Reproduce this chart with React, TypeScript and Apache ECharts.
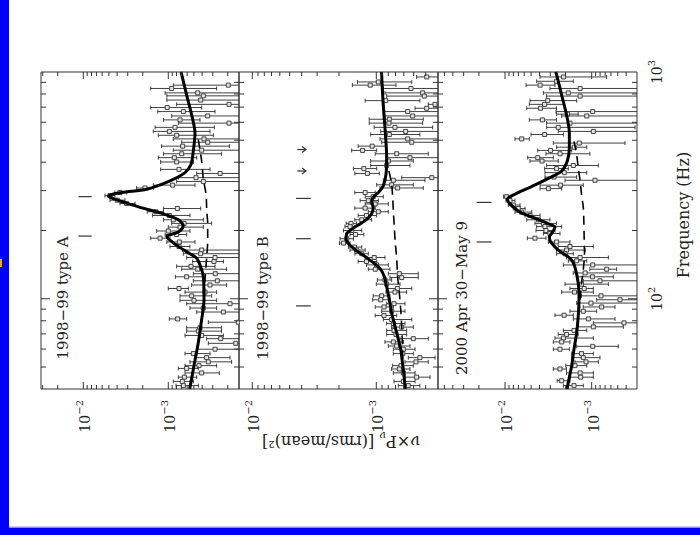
import React, { useEffect, useRef } from "react";
import * as echarts from "echarts";

const FONT = "'DejaVu Serif', 'Liberation Serif', serif";

// ---------- axes ----------
const freqRange = [40, 1000];
const powerRanges = [
  [1.473e-4, 3.144e-2],
  [3.18e-4, 1.28e-2],
  [3.0e-4, 5.93e-2],
];
const panelNames = ["1998−99 type A", "1998−99 type B", "2000 Apr 30−May 9"];
const powerTickValues = [1e-2, 1e-3];
const powerTickLabels = ["{b|10}{s|−2}", "{b|10}{s|−3}"];
const freqTickValues = [100, 1000];
const freqTickLabels = ["{b|10}{s|2}", "{b|10}{s|3}"];
const freqTitle = "Frequency (Hz)";
const BELOW = 1e-5; // error bar runs off the plotted range

// ---------- panel A : [freq, power, lower, upper] ----------
const pointsA = [
  [875, 1.97e-4, BELOW, 8.73e-4], [846, 9.12e-4, 2.7e-4, 1.61e-3], [809, 4.51e-4, BELOW, 1.09e-3],
  [785, 3.87e-4, BELOW, 1.04e-3], [752, 4.16e-4, BELOW, 1.04e-3], [720, 1.93e-4, BELOW, 7.97e-4],
  [697, 1.03e-3, 4.05e-4, 1.61e-3], [669, 6.65e-4, 2.82e-4, 1.33e-3], [640, 3.44e-4, BELOW, 9.12e-4],
  [615, 7.28e-4, 4.24e-4, 1.14e-3], [595, 1.93e-4, BELOW, 7.62e-4], [570, 8.34e-4, 2.87e-4, 1.43e-3],
  [547, 9.73e-4, 3.23e-4, 1.5e-3], [526, 7.97e-4, 2.95e-4, 1.31e-3], [507, 3.8e-4, BELOW, 8.73e-4],
  [490, 3.44e-4, BELOW, 6.96e-4], [471, 6.78e-4, 1.91e-4, 1.2e-3], [452, 4.05e-4, BELOW, 8.73e-4],
  [436, 6.96e-4, 2.36e-4, 1.14e-3], [419, 8.49e-4, 4.63e-4, 1.31e-3], [401, 7.97e-4, 5.07e-4, 1.23e-3],
  [372, 7.48e-4, 3.23e-4, 1.23e-3], [357, 2.46e-4, BELOW, 4.63e-4], [342, 4.72e-4, BELOW, 7.62e-4],
  [329, 3.87e-4, BELOW, 7.97e-4], [317, 8.89e-4, 4.85e-4, 1.5e-3], [308, 1.88e-3, 1.5e-3, 2.36e-3],
  [294, 3.7e-3, 3.09e-3, 4.24e-3], [285, 4.85e-3, 4.24e-3, 5.56e-3], [272, 3.98e-3, 3.23e-3, 4.85e-3],
  [263, 3.09e-3, 2.46e-3, 3.7e-3], [250, 7.83e-4, 4.16e-4, 1.14e-3], [242, 1.4e-3, 1.14e-3, 1.77e-3],
  [233, 9.73e-4, 5.56e-4, 1.53e-3], [223, 8.73e-4, 3.87e-4, 1.14e-3], [215, 6.53e-4, 3.09e-4, 9.12e-4],
  [207, 7.28e-4, 3.87e-4, 1.0e-3], [199, 1.0e-3, 5.56e-4, 1.37e-3], [192, 7.97e-4, 6.08e-4, 1.09e-3],
  [185, 1.25e-3, 9.55e-4, 1.61e-3], [178, 7.41e-4, 4.85e-4, 1.04e-3], [170, 7.48e-4, 5.56e-4, 9.55e-4],
  [164, 4.05e-4, BELOW, 6.84e-4], [158, 4.16e-4, BELOW, 6.65e-4], [152, 2.82e-4, BELOW, 6.08e-4],
  [146, 2.9e-4, 2.25e-4, 5.17e-4], [139, 5.41e-4, 2.82e-4, 7.97e-4], [135, 4.51e-4, 2.06e-4, 6.96e-4],
  [129, 2.8e-4, BELOW, 5.07e-4], [125, 6.08e-4, 3.87e-4, 8.26e-4], [120, 2.65e-4, BELOW, 5.07e-4],
  [115, 3.23e-4, 2.06e-4, 5.31e-4], [111, 7.48e-4, 5.81e-4, 1.0e-3], [107, 3.7e-4, 2.7e-4, 6.36e-4],
  [103, 5.31e-4, 3.09e-4, 7.28e-4], [98.4, 4.99e-4, 2.7e-4, 7.28e-4], [95.1, 1.88e-4, BELOW, 6.08e-4],
  [91.0, 3.87e-4, 2.7e-4, 5.56e-4], [87.4, 2.25e-4, BELOW, 4.63e-4], [81.5, 7.76e-4, 6.08e-4, 9.73e-4],
  [78.8, 1.5e-4, BELOW, 3.38e-4], [74.5, 4.24e-4, 2.36e-4, 6.08e-4], [72.0, 4.43e-4, 2.36e-4, 6.08e-4],
  [68.9, 4.05e-4, 2.25e-4, 6.36e-4], [66.7, 2.42e-4, BELOW, 3.54e-4], [63.6, 1.61e-4, BELOW, 3.38e-4],
  [59.9, 2.82e-4, BELOW, 4.63e-4], [57.3, 5.07e-4, 3.23e-4, 6.36e-4], [55.0, 3.54e-4, 1.88e-4, 4.85e-4],
  [52.7, 3.38e-4, 1.8e-4, 5.56e-4], [50.7, 4.35e-4, 2.7e-4, 6.36e-4], [49.3, 6.08e-4, 4.43e-4, 7.62e-4],
  [47.1, 4.05e-4, 2.51e-4, 6.36e-4], [45.1, 6.47e-4, 4.63e-4, 7.62e-4], [43.2, 6.84e-4, 5.07e-4, 8.73e-4],
  [41.4, 6.65e-4, 4.43e-4, 8.11e-4],
];
const modelA = [
  [1000, 7.1e-4], [973, 6.95e-4], [791, 6.08e-4], [647, 5.31e-4], [537, 4.85e-4], [448, 5.08e-4],
  [391, 5.41e-4], [360, 6.37e-4], [331, 9.55e-4], [304, 1.79e-3], [294, 3.53e-3], [284, 5.08e-3],
  [270, 3.7e-3], [253, 2.15e-3], [237, 1.15e-3], [223, 7.62e-4], [210, 6.67e-4], [197, 7.62e-4],
  [188, 1.04e-3], [172, 7.96e-4], [158, 5.56e-4], [151, 4.63e-4], [141, 4.24e-4], [125, 3.87e-4],
  [99, 3.8e-4], [81, 4.05e-4], [64, 4.44e-4], [50.6, 4.99e-4], [40, 5.6e-4],
];
const contA = [
  [504, 4.44e-4], [405, 4.05e-4], [337, 3.87e-4], [290, 3.6e-4], [245, 3.53e-4], [214, 3.44e-4],
  [181, 3.44e-4], [153, 3.53e-4], [121, 3.7e-4], [99, 3.8e-4], [81, 4.05e-4], [64, 4.44e-4],
  [50.6, 4.99e-4], [40, 5.6e-4],
];
// [freq, power start, power end, arrow]
const marksA = [[282, 1.14e-2, 7.97e-3, 0], [189, 1.14e-2, 7.97e-3, 0]];

// ---------- panel B ----------
const pointsB = [
  [951, 3.92e-4, BELOW, 4.73e-4], [904, 9.63e-4, 5.18e-4, 1.42e-3], [875, 1.12e-3, 6.94e-4, 1.56e-3],
  [846, 5.25e-4, BELOW, 8.78e-4], [809, 4.23e-4, BELOW, 8.51e-4], [783, 4.1e-4, BELOW, 8.25e-4],
  [748, 8.4e-4, 4.45e-4, 1.23e-3], [720, 3.36e-4, BELOW, 3.81e-4], [692, 3.92e-4, BELOW, 4.87e-4],
  [669, 5.58e-4, BELOW, 8.78e-4], [640, 5.09e-4, BELOW, 8.51e-4], [619, 7.85e-4, 4.18e-4, 1.14e-3],
  [595, 7.91e-4, 4.23e-4, 1.14e-3], [570, 7.07e-4, 3.51e-4, 1.04e-3], [547, 5.8e-4, BELOW, 9.22e-4],
  [530, 7.85e-4, 4.45e-4, 1.11e-3], [507, 5.58e-4, BELOW, 9.34e-4], [490, 5.18e-4, BELOW, 9.05e-4],
  [471, 1.08e-3, 8.25e-4, 1.4e-3], [451, 1.29e-3, 9.93e-4, 1.58e-3], [436, 6.85e-4, 3.81e-4, 1.02e-3],
  [419, 5.35e-4, BELOW, 8.25e-4], [405, 8.0e-4, 5.03e-4, 1.11e-3], [387, 8.25e-4, 5.35e-4, 1.11e-3],
  [375, 1.26e-3, 9.93e-4, 1.53e-3], [357, 1.18e-3, 9.46e-4, 1.49e-3], [342, 3.57e-4, BELOW, 6.24e-4],
  [333, 7.29e-4, 4.05e-4, 8.78e-4], [318, 7.52e-4, 5.03e-4, 9.93e-4], [308, 6.73e-4, 4.18e-4, 9.34e-4],
  [294, 1.23e-3, 1.02e-3, 1.49e-3], [282, 1.06e-3, 8.78e-4, 1.23e-3], [271, 1.16e-3, 9.63e-4, 1.35e-3],
  [262, 1.02e-3, 8.0e-4, 1.23e-3], [251, 1.23e-3, 1.02e-3, 1.49e-3], [242, 9.63e-4, 8.0e-4, 1.16e-3],
  [233, 1.2e-3, 9.93e-4, 1.4e-3], [223, 1.31e-3, 1.09e-3, 1.49e-3], [215, 1.6e-3, 1.44e-3, 1.75e-3],
  [208, 1.63e-3, 1.49e-3, 1.79e-3], [200, 1.58e-3, 1.31e-3, 1.84e-3], [192, 1.47e-3, 1.26e-3, 1.63e-3],
  [184, 1.73e-3, 1.53e-3, 1.96e-3], [176, 1.84e-3, 1.63e-3, 1.98e-3], [169, 1.5e-3, 1.31e-3, 1.68e-3],
  [164, 1.44e-3, 1.23e-3, 1.63e-3], [158, 1.31e-3, 1.16e-3, 1.49e-3], [152, 1.04e-3, 8.51e-4, 1.23e-3],
  [146, 1.2e-3, 9.93e-4, 1.4e-3], [141, 9.93e-4, 8.0e-4, 1.2e-3], [135, 1.02e-3, 7.76e-4, 1.16e-3],
  [129, 6.52e-4, 4.59e-4, 8.0e-4], [124, 6.24e-4, 4.59e-4, 7.76e-4], [121, 8.51e-4, 7.52e-4, 9.81e-4],
  [116, 8.25e-4, 6.44e-4, 1.0e-3], [111, 6.76e-4, 5.18e-4, 8.25e-4], [107, 7.07e-4, 5.69e-4, 8.35e-4],
  [103, 9.05e-4, 7.76e-4, 1.06e-3], [99.0, 9.22e-4, 7.76e-4, 1.07e-3], [95.1, 7.2e-4, 5.87e-4, 8.25e-4],
  [92.0, 8.67e-4, 7.29e-4, 1.02e-3], [88.1, 7.52e-4, 5.87e-4, 9.05e-4], [84.4, 8.67e-4, 6.85e-4, 1.02e-3],
  [81.0, 7.52e-4, 5.18e-4, 8.78e-4], [77.8, 7.29e-4, 5.87e-4, 8.25e-4], [75.0, 6.24e-4, 5.03e-4, 7.52e-4],
  [72.5, 7.2e-4, 5.69e-4, 8.25e-4], [69.6, 6.94e-4, 5.69e-4, 8.25e-4], [66.7, 5.03e-4, 3.81e-4, 6.44e-4],
  [64.5, 7.29e-4, 6.05e-4, 8.51e-4], [61.9, 6.85e-4, 5.35e-4, 8.0e-4], [59.9, 6.05e-4, 4.87e-4, 7.29e-4],
  [57.3, 6.12e-4, 5.03e-4, 7.29e-4], [55.0, 4.45e-4, 3.36e-4, 5.52e-4], [52.7, 4.79e-4, 3.81e-4, 5.87e-4],
  [50.7, 6.32e-4, 5.03e-4, 7.38e-4], [49.0, 6.52e-4, 5.35e-4, 7.52e-4], [47.1, 6.05e-4, 4.87e-4, 7.29e-4],
  [45.1, 4.73e-4, 3.69e-4, 5.87e-4], [43.2, 6.05e-4, 4.87e-4, 7.2e-4], [41.4, 5.52e-4, 4.45e-4, 6.64e-4],
];
const modelB = [
  [1000, 9.1e-4], [973, 9.05e-4], [791, 8.89e-4], [647, 8.67e-4], [512, 8.4e-4], [419, 8.25e-4],
  [354, 8.35e-4], [315, 8.78e-4], [294, 9.63e-4], [280, 1.06e-3], [266, 1.09e-3], [253, 1.06e-3],
  [237, 1.09e-3], [221, 1.23e-3], [207, 1.49e-3], [194, 1.73e-3], [184, 1.75e-3], [172, 1.63e-3],
  [161, 1.4e-3], [152, 1.2e-3], [136, 9.34e-4], [125, 8.61e-4], [113, 8.25e-4], [99, 7.85e-4],
  [86.5, 7.52e-4], [75.7, 7.07e-4], [66.2, 6.64e-4], [59.9, 6.35e-4], [52.4, 6.16e-4], [45.8, 5.98e-4],
  [40, 5.85e-4],
];
const contB = [
  [366, 7.91e-4], [320, 7.52e-4], [280, 7.38e-4], [245, 7.29e-4], [207, 7.16e-4], [175, 7.02e-4],
  [151, 6.85e-4], [125, 6.73e-4], [106, 6.52e-4], [89.5, 6.35e-4], [75.7, 6.24e-4], [64, 6.16e-4],
  [54.2, 6.12e-4], [45.8, 5.98e-4], [40, 5.85e-4],
];
const marksB = [
  [277, 4.44e-3, 3.38e-3, 0], [184, 4.44e-3, 3.38e-3, 0], [93, 4.44e-3, 3.38e-3, 0],
  [455, 4.34e-3, 3.69e-3, 1], [366, 4.34e-3, 3.69e-3, 1],
];

// ---------- panel C ----------
const pointsC = [
  [951, 2.12e-3, 6.72e-4, 3.94e-3], [910, 2.54e-3, 1.63e-3, 4.31e-3], [875, 3.94e-3, 2.65e-3, 5.72e-3],
  [846, 1.36e-3, BELOW, 3.03e-3], [809, 1.86e-3, BELOW, 3.61e-3], [783, 1.36e-3, BELOW, 3.31e-3],
  [748, 3.22e-3, 1.49e-3, 5.15e-3], [720, 3.49e-3, 2.12e-3, 5.24e-3], [692, 3.9e-3, 2.54e-3, 5.62e-3],
  [669, 9.73e-4, BELOW, 2.58e-3], [652, 1.9e-3, 1.43e-3, 2.54e-3], [640, 1.14e-3, BELOW, 2.22e-3],
  [615, 3.7e-3, 2.54e-3, 5.24e-3], [595, 1.78e-3, BELOW, 3.31e-3], [570, 2.43e-3, 3.16e-4, 3.31e-3],
  [547, 9.57e-4, BELOW, 2.43e-3], [530, 3.49e-3, 2.12e-3, 5.01e-3], [507, 6.42e-3, 5.24e-3, 7.67e-3],
  [486, 1.39e-3, 4.13e-4, 2.77e-3], [466, 1.59e-3, 1.14e-3, 2.54e-3], [451, 2.98e-3, 1.7e-3, 4.19e-3],
  [436, 2.32e-3, 1.05e-3, 3.37e-3], [419, 4.19e-3, 2.77e-3, 5.47e-3], [405, 3.74e-3, 2.43e-3, 5.15e-3],
  [387, 1.63e-3, 8.38e-4, 3.31e-3], [375, 2.54e-3, 1.86e-3, 3.49e-3], [360, 2.07e-3, 1.14e-3, 3.46e-3],
  [344, 2.72e-3, 1.49e-3, 3.46e-3], [333, 9.16e-4, BELOW, 2.03e-3], [317, 2.28e-3, 1.25e-3, 3.94e-3],
  [306, 3.16e-3, 2.22e-3, 3.94e-3], [282, 9.57e-3, 8.38e-3, 1.04e-2], [271, 8.76e-3, 7.67e-3, 9.74e-3],
  [259, 8.01e-3, 6.71e-3, 9.16e-3], [250, 7.02e-3, 5.87e-3, 8.01e-3], [241, 6.42e-3, 4.92e-3, 7.67e-3],
  [233, 5.15e-3, 3.94e-3, 5.87e-3], [223, 4.12e-3, 3.03e-3, 5.62e-3], [215, 3.61e-3, 2.54e-3, 4.51e-3],
  [208, 3.46e-3, 2.22e-3, 4.31e-3], [200, 3.37e-3, 2.65e-3, 4.39e-3], [194, 3.03e-3, 2.32e-3, 3.61e-3],
  [185, 4.51e-3, 3.37e-3, 5.52e-3], [178, 2.54e-3, 1.78e-3, 3.16e-3], [170, 1.78e-3, 9.57e-4, 2.43e-3],
  [164, 1.95e-3, 1.19e-3, 2.54e-3], [158, 2.03e-3, 1.63e-3, 2.54e-3], [152, 1.36e-3, 6.42e-4, 1.95e-3],
  [147, 1.49e-3, 1.14e-3, 1.86e-3], [141, 9.73e-4, BELOW, 2.12e-3], [135, 6.72e-4, 5.15e-4, 1.05e-3],
  [130, 1.19e-3, BELOW, 1.63e-3], [125, 9.81e-4, 5.63e-4, 1.49e-3], [120, 8.02e-4, BELOW, 1.25e-3],
  [116, 1.31e-3, 6.42e-4, 2.03e-3], [111, 1.22e-3, 9.57e-4, 1.78e-3], [107, 1.58e-3, 9.57e-4, 2.22e-3],
  [103, 7.8e-4, BELOW, 1.31e-3], [99.0, 4.71e-4, BELOW, 8.76e-4], [95.7, 1.02e-3, BELOW, 1.49e-3],
  [92.0, 7.67e-4, 5.38e-4, 1.25e-3], [88.1, 1.25e-3, 8.76e-4, 1.78e-3], [84.6, 2.08e-3, 1.63e-3, 2.65e-3],
  [81.5, 1.09e-3, 5.38e-4, 1.63e-3], [78.3, 4.24e-4, BELOW, 9.57e-4], [75.2, 9.57e-4, 4.31e-4, 1.49e-3],
  [72.5, 1.6e-3, 1.14e-3, 2.12e-3], [69.6, 1.95e-3, 1.43e-3, 2.43e-3], [67.1, 2.12e-3, 9.57e-4, 2.65e-3],
  [64.5, 2.22e-3, 1.78e-3, 2.77e-3], [61.7, 9.73e-4, 4.93e-4, 1.49e-3], [59.9, 2.32e-3, 1.81e-3, 2.77e-3],
  [57.3, 1.31e-3, 9.57e-4, 1.7e-3], [55.0, 1.25e-3, 8.02e-4, 1.7e-3], [52.7, 1.16e-3, 8.38e-4, 1.56e-3],
  [50.7, 1.56e-3, 1.14e-3, 1.99e-3], [49.0, 2.32e-3, 1.95e-3, 2.77e-3], [47.1, 1.36e-3, 9.57e-4, 1.95e-3],
  [45.1, 1.34e-3, 9.57e-4, 1.78e-3], [43.5, 2.22e-3, 1.78e-3, 2.5e-3], [41.4, 1.6e-3, 1.25e-3, 2.12e-3],
];
const modelC = [
  [1000, 2.6e-3], [973, 2.54e-3], [791, 2.22e-3], [647, 1.95e-3], [538, 1.81e-3], [463, 1.81e-3],
  [405, 1.91e-3], [366, 2.22e-3], [342, 3.03e-3], [310, 5.15e-3], [289, 7.67e-3], [275, 9.39e-3],
  [262, 8.76e-3], [241, 6.71e-3], [225, 4.31e-3], [214, 3.16e-3], [207, 2.65e-3], [197, 2.82e-3],
  [187, 3.08e-3], [178, 2.97e-3], [164, 2.43e-3], [153, 1.86e-3], [148, 1.7e-3], [138, 1.56e-3],
  [117, 1.43e-3], [99, 1.4e-3], [83.7, 1.43e-3], [70.8, 1.49e-3], [59.9, 1.6e-3], [50.7, 1.7e-3],
  [42.9, 1.86e-3], [40, 1.92e-3],
];
const contC = [
  [494, 1.6e-3], [432, 1.49e-3], [378, 1.43e-3], [331, 1.36e-3], [289, 1.31e-3], [253, 1.25e-3],
  [214, 1.23e-3], [181, 1.22e-3], [158, 1.21e-3], [134, 1.25e-3], [117, 1.31e-3], [99, 1.36e-3],
  [83.7, 1.42e-3], [70.8, 1.49e-3], [59.9, 1.6e-3], [50.7, 1.7e-3], [42.9, 1.86e-3], [40, 1.92e-3],
];
const marksC = [[266, 2.12e-2, 1.43e-2, 0], [178, 2.12e-2, 1.43e-2, 0]];

const panels = [
  { points: pointsA, model: modelA, cont: contA, marks: marksA },
  { points: pointsB, model: modelB, cont: contB, marks: marksB },
  { points: pointsC, model: modelC, cont: contC, marks: marksC },
];

// ---------- helpers ----------
function logTicks(lo: number, hi: number) {
  const out: number[][] = [];
  for (let e = -6; e <= 4; e++) {
    for (let m = 1; m <= 9; m++) {
      const v = m * Math.pow(10, e);
      if (v > lo * 1.0001 && v < hi * 0.9999) out.push([v, m === 1 ? 1 : 0]);
    }
  }
  return out;
}

function labelFormatter(vals: number[], labels: string[]) {
  return (v: number) => {
    for (let k = 0; k < vals.length; k++) {
      if (Math.abs(Math.log10(v) - Math.log10(vals[k])) < 1e-6) return labels[k];
    }
    return "";
  };
}

const INK = "#222";
const tickRich = {
  b: { fontSize: 14, fontFamily: FONT, color: INK, lineHeight: 18, verticalAlign: "bottom" },
  s: { fontSize: 10, fontFamily: FONT, color: INK, lineHeight: 12, verticalAlign: "top" },
};

export default function App() {
  const ref = useRef<HTMLDivElement>(null);

  useEffect(() => {
    if (!ref.current) return;
    const chart = echarts.init(ref.current, undefined, { renderer: "svg" });

    const lefts = [41, 239, 438];
    const widths = [198, 199, 199];
    const top = 72;
    const height = 317;

    const grid = lefts.map((l, i) => ({
      left: l, top, width: widths[i], height,
      show: true, borderColor: "#333", borderWidth: 1, backgroundColor: "transparent",
    }));

    const xAxis = panels.map((_, i) => ({
      type: "log", logBase: 10, gridIndex: i, inverse: true,
      min: powerRanges[i][0], max: powerRanges[i][1],
      axisLine: { show: false }, axisTick: { show: false }, splitLine: { show: false },
      axisLabel: {
        show: true, rotate: 90, margin: 11, fontSize: 14, fontFamily: FONT, color: INK,
        formatter: labelFormatter(powerTickValues, powerTickLabels), rich: tickRich,
      },
    }));

    const yAxis = panels.map((_, i) => ({
      type: "log", logBase: 10, gridIndex: i,
      min: freqRange[0], max: freqRange[1],
      position: i === 2 ? "right" : "left",
      axisLine: { show: false }, axisTick: { show: false }, splitLine: { show: false },
      axisLabel: {
        show: i === 2, rotate: 90, margin: 9, fontSize: 14, fontFamily: FONT, color: INK,
        formatter: labelFormatter(freqTickValues, freqTickLabels), rich: tickRich,
      },
    }));

    const series: any[] = [];
    panels.forEach((p, i) => {
      // power-axis ticks (top & bottom edges)
      series.push({
        type: "custom", xAxisIndex: i, yAxisIndex: i, silent: true, z: 6,
        data: logTicks(powerRanges[i][0], powerRanges[i][1]).map(([v, mj]) => [v, 100, mj]),
        renderItem: (params: any, api: any) => {
          const cs = params.coordSys;
          const x = api.coord([api.value(0), 100])[0];
          const len = api.value(2) ? 7 : 4;
          const st = { stroke: "#333", lineWidth: 1 };
          return {
            type: "group",
            children: [
              { type: "line", shape: { x1: x, y1: cs.y, x2: x, y2: cs.y + len }, style: st },
              { type: "line", shape: { x1: x, y1: cs.y + cs.height, x2: x, y2: cs.y + cs.height - len }, style: st },
            ],
          };
        },
      });
      // frequency-axis ticks (left & right edges)
      series.push({
        type: "custom", xAxisIndex: i, yAxisIndex: i, silent: true, z: 6,
        data: logTicks(freqRange[0], freqRange[1]).map(([v, mj]) => [1e-3, v, mj]),
        renderItem: (params: any, api: any) => {
          const cs = params.coordSys;
          const y = api.coord([1e-3, api.value(1)])[1];
          const len = api.value(2) ? 9 : 5;
          const st = { stroke: "#333", lineWidth: 1 };
          return {
            type: "group",
            children: [
              { type: "line", shape: { x1: cs.x, y1: y, x2: cs.x + len, y2: y }, style: st },
              { type: "line", shape: { x1: cs.x + cs.width, y1: y, x2: cs.x + cs.width - len, y2: y }, style: st },
            ],
          };
        },
      });
      // data points with error bars
      series.push({
        type: "custom", xAxisIndex: i, yAxisIndex: i, silent: true, z: 2, clip: true,
        data: p.points.map(([f, P, lo, hi]) => [P, f, lo, hi]),
        renderItem: (params: any, api: any) => {
          const f = api.value(1);
          const c = api.coord([api.value(0), f]);
          const a = api.coord([api.value(3), f]);
          const b = api.coord([api.value(2), f]);
          const st = { stroke: "#2b2b2b", lineWidth: 0.9 };
          return {
            type: "group",
            children: [
              { type: "line", shape: { x1: a[0], y1: c[1], x2: b[0], y2: c[1] }, style: st },
              { type: "line", shape: { x1: a[0], y1: c[1] - 2, x2: a[0], y2: c[1] + 2 }, style: st },
              { type: "line", shape: { x1: b[0], y1: c[1] - 2, x2: b[0], y2: c[1] + 2 }, style: st },
              { type: "rect", shape: { x: c[0] - 2, y: c[1] - 2, width: 4, height: 4 }, style: { fill: "#e6e6e6", stroke: "#444", lineWidth: 1 } },
            ],
          };
        },
      });
      // continuum (dashed)
      series.push({
        type: "line", xAxisIndex: i, yAxisIndex: i, silent: true, z: 3,
        data: p.cont.map(([f, P]) => [P, f]),
        showSymbol: false, symbol: "none", smooth: 0.3,
        lineStyle: { color: "#000", width: 1.6, type: [9, 6] },
      });
      // full model (solid)
      series.push({
        type: "line", xAxisIndex: i, yAxisIndex: i, silent: true, z: 4,
        data: p.model.map(([f, P]) => [P, f]),
        showSymbol: false, symbol: "none", smooth: 0.3,
        lineStyle: { color: "#000", width: 3 },
      });
      // QPO frequency markers and upper-limit arrows
      series.push({
        type: "custom", xAxisIndex: i, yAxisIndex: i, silent: true, z: 5,
        data: p.marks.map(([f, a, b, arr]) => [a, f, b, arr]),
        renderItem: (params: any, api: any) => {
          const f = api.value(1);
          const s = api.coord([api.value(0), f]);
          const e = api.coord([api.value(2), f]);
          const st = { stroke: "#333", lineWidth: 1.2, fill: "none" };
          const children: any[] = [
            { type: "line", shape: { x1: s[0], y1: s[1], x2: e[0], y2: e[1] }, style: st },
          ];
          if (api.value(3)) {
            children.push({
              type: "polyline",
              shape: { points: [[e[0] - 4, e[1] - 3], [e[0], e[1]], [e[0] - 4, e[1] + 3]] },
              style: st,
            });
          }
          return { type: "group", children };
        },
      });
    });

    const labelX = [63, 263, 461.5];
    const graphic: any[] = [
      { type: "rect", shape: { x: 0, y: 0, width: 9, height: 535 }, style: { fill: "#0000ff" }, silent: true },
      { type: "rect", shape: { x: 0, y: 527.5, width: 700, height: 7.5 }, style: { fill: "#0000ff" }, silent: true },
      { type: "rect", shape: { x: 9, y: 526.5, width: 691, height: 1 }, style: { fill: "#9a9aff" }, silent: true },
      { type: "rect", shape: { x: 0, y: 259, width: 2, height: 8 }, style: { fill: "#e8b000" }, silent: true },
      ...panelNames.map((t, i) => ({
        type: "text", x: labelX[i], y: 298, rotation: Math.PI / 2, silent: true,
        style: {
          text: t, fontSize: 15, fontFamily: FONT, fill: INK,
          align: "center", verticalAlign: "middle", textAlign: "center", textVerticalAlign: "middle",
        },
      })),
      {
        type: "text", x: 683, y: 215, rotation: Math.PI / 2, silent: true,
        style: {
          text: freqTitle, fontSize: 16, fontFamily: FONT, fill: INK,
          align: "center", verticalAlign: "middle", textAlign: "center", textVerticalAlign: "middle",
        },
      },
      {
        type: "text", x: 341, y: 441, rotation: Math.PI, silent: true,
        style: {
          text: "ν×P{s|ν} [(rms/mean)²]", fontSize: 16, fontFamily: FONT, fill: INK, lineHeight: 22,
          align: "center", verticalAlign: "middle", textAlign: "center", textVerticalAlign: "middle",
          rich: { s: { fontSize: 11, fontFamily: FONT, fill: INK, lineHeight: 12, verticalAlign: "bottom" } },
        },
      },
    ];

    chart.setOption({
      animation: false,
      backgroundColor: "#ffffff",
      grid, xAxis, yAxis, series, graphic,
    });

    return () => chart.dispose();
  }, []);

  return (
    <div
      ref={ref}
      style={{ position: "fixed", left: 0, top: 0, width: 700, height: 535, background: "#fff" }}
    />
  );
}
